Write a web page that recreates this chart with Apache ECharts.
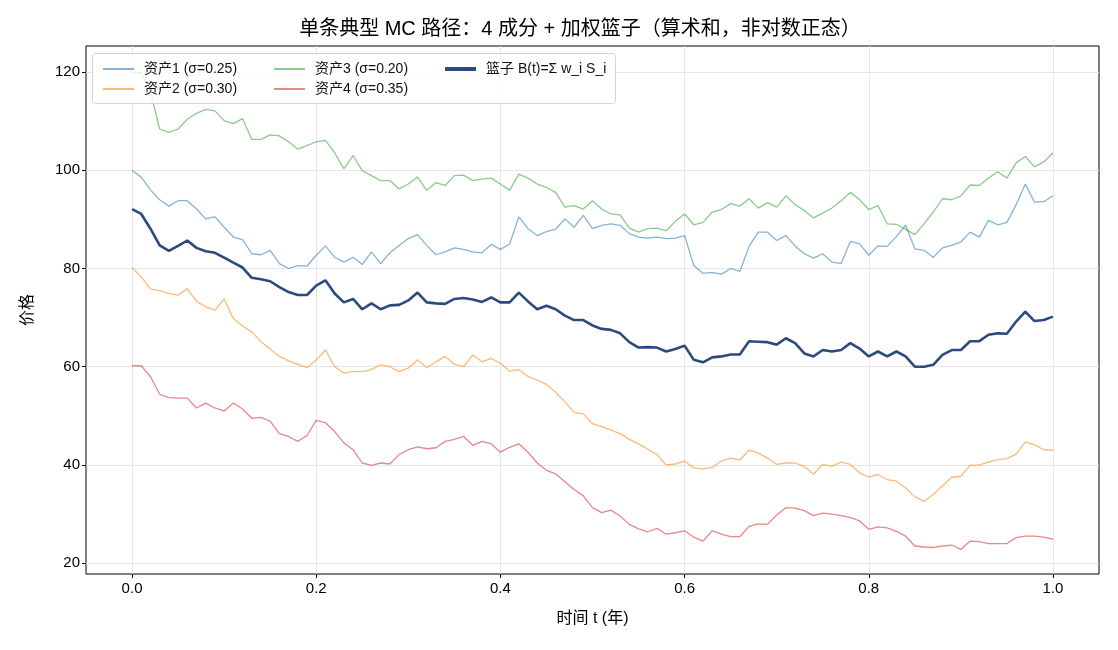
<!DOCTYPE html>
<html>
<head>
<meta charset="utf-8">
<script src="https://cdn.jsdelivr.net/npm/echarts@6/dist/echarts.min.js"></script>
<style>
  html, body { margin: 0; padding: 0; background: #fff; }
  #chart { width: 1118px; height: 650px; }
</style>
</head>
<body>
<div id="chart"></div>
<script>
// time grid: read every 0.01 year along the path
const times = Array.from({ length: 101 }, (_, i) => i / 100);

const asset1 = [
  100.0, 98.6, 96.0, 94.0, 92.7, 93.8, 93.8, 92.1, 90.1, 90.5,
  88.4, 86.4, 85.9, 83.0, 82.8, 83.7, 81.0, 80.0, 80.6, 80.5,
  82.7, 84.6, 82.3, 81.3, 82.3, 80.8, 83.4, 81.0, 83.2, 84.7,
  86.1, 86.9, 84.7, 82.8, 83.4, 84.2, 83.9, 83.4, 83.2, 84.9,
  83.9, 85.0, 90.5, 88.1, 86.7, 87.5, 88.0, 90.1, 88.4, 90.8,
  88.1, 88.8, 89.1, 88.8, 87.1, 86.4, 86.2, 86.4, 86.1, 86.2,
  86.7, 80.6, 79.0, 79.2, 78.8, 80.0, 79.4, 84.5, 87.4, 87.4,
  85.7, 86.7, 84.6, 83.0, 82.1, 83.0, 81.3, 81.0, 85.5, 85.0,
  82.7, 84.6, 84.5, 86.5, 88.8, 84.0, 83.7, 82.3, 84.2, 84.7,
  85.4, 87.4, 86.4, 89.8, 88.9, 89.4, 93.0, 97.2, 93.5, 93.6,
  94.8
];

const asset2 = [
  80.2, 78.3, 75.8, 75.5, 74.9, 74.6, 75.9, 73.3, 72.2, 71.5,
  73.8, 69.8, 68.3, 67.1, 65.1, 63.6, 62.1, 61.2, 60.5, 59.8,
  61.4, 63.4, 60.0, 58.7, 59.0, 59.0, 59.4, 60.4, 60.0, 59.0,
  59.7, 61.4, 59.8, 61.0, 62.1, 60.5, 60.0, 62.4, 61.0, 61.7,
  60.7, 59.1, 59.4, 58.0, 57.3, 56.4, 54.8, 52.9, 50.7, 50.4,
  48.4, 47.8, 47.1, 46.4, 45.2, 44.3, 43.2, 42.1, 40.0, 40.2,
  40.8, 39.4, 39.2, 39.5, 40.8, 41.4, 41.0, 43.0, 42.4, 41.4,
  40.1, 40.4, 40.4, 39.7, 38.1, 40.1, 39.7, 40.6, 40.1, 38.4,
  37.5, 38.1, 37.0, 36.7, 35.3, 33.5, 32.6, 34.0, 35.7, 37.5,
  37.7, 39.9, 40.0, 40.6, 41.1, 41.3, 42.2, 44.7, 44.1, 43.1,
  43.0
];

const asset3 = [
  120.0, 119.8, 116.0, 108.4, 107.7, 108.4, 110.4, 111.6, 112.4, 112.1,
  110.1, 109.5, 110.5, 106.3, 106.3, 107.2, 107.0, 105.8, 104.3, 105.0,
  105.8, 106.1, 103.6, 100.3, 103.0, 99.9, 98.9, 97.9, 97.9, 96.2,
  97.2, 98.6, 95.9, 97.5, 96.9, 98.9, 99.0, 97.9, 98.2, 98.4,
  97.2, 95.9, 99.2, 98.4, 97.2, 96.5, 95.5, 92.5, 92.8, 92.1,
  93.8, 92.1, 91.1, 90.9, 88.2, 87.4, 88.1, 88.2, 87.7, 89.6,
  91.1, 88.9, 89.4, 91.5, 92.0, 93.2, 92.7, 94.2, 92.3, 93.4,
  92.5, 94.8, 93.0, 91.8, 90.3, 91.3, 92.3, 93.8, 95.5, 94.0,
  92.0, 92.8, 89.1, 89.0, 88.0, 86.9, 89.1, 91.5, 94.2, 94.0,
  94.8, 97.0, 96.9, 98.4, 99.7, 98.4, 101.5, 102.8, 100.7, 101.7,
  103.5
];

const asset4 = [
  60.2, 60.2, 58.0, 54.4, 53.7, 53.6, 53.6, 51.6, 52.6, 51.6,
  51.0, 52.6, 51.4, 49.5, 49.7, 48.9, 46.4, 45.8, 44.8, 46.0,
  49.1, 48.6, 46.8, 44.5, 43.1, 40.4, 39.9, 40.4, 40.2, 42.1,
  43.1, 43.7, 43.3, 43.5, 44.8, 45.2, 45.8, 44.0, 44.8, 44.3,
  42.6, 43.6, 44.3, 42.6, 40.4, 38.9, 38.2, 36.6, 35.0, 33.7,
  31.3, 30.3, 30.8, 29.6, 27.9, 27.0, 26.4, 27.1, 25.9, 26.2,
  26.6, 25.3, 24.5, 26.6, 25.9, 25.4, 25.4, 27.5, 28.0, 27.9,
  29.8, 31.3, 31.2, 30.7, 29.7, 30.2, 30.0, 29.7, 29.3, 28.6,
  26.9, 27.4, 27.2, 26.5, 25.5, 23.5, 23.3, 23.2, 23.5, 23.7,
  22.8, 24.5, 24.4, 24.0, 24.0, 24.0, 25.2, 25.5, 25.5, 25.3,
  24.9
];

const basket = [
  92.1, 91.1, 88.1, 84.7, 83.6, 84.6, 85.7, 84.2, 83.5, 83.2,
  82.2, 81.2, 80.2, 78.1, 77.8, 77.4, 76.2, 75.2, 74.6, 74.6,
  76.5, 77.6, 74.9, 73.1, 73.8, 71.7, 72.9, 71.7, 72.5, 72.6,
  73.5, 75.1, 73.1, 72.9, 72.8, 73.8, 74.0, 73.7, 73.2, 74.1,
  73.1, 73.1, 75.1, 73.3, 71.7, 72.4, 71.7, 70.4, 69.5, 69.5,
  68.4, 67.7, 67.5, 66.8, 65.0, 63.9, 64.0, 63.9, 63.1, 63.6,
  64.3, 61.4, 60.9, 61.9, 62.1, 62.5, 62.5, 65.2, 65.1, 65.0,
  64.5, 65.8, 64.8, 62.7, 62.1, 63.4, 63.1, 63.4, 64.8, 63.7,
  62.1, 63.1, 62.1, 63.1, 62.1, 60.0, 60.0, 60.4, 62.4, 63.4,
  63.4, 65.2, 65.2, 66.5, 66.8, 66.7, 69.2, 71.2, 69.3, 69.5,
  70.2
];

const seriesNames = ['资产1 (σ=0.25)', '资产2 (σ=0.30)', '资产3 (σ=0.20)', '资产4 (σ=0.35)', '篮子 B(t)=Σ w_i S_i'];
const seriesColors = ['rgba(31,119,180,0.55)', 'rgba(255,127,14,0.55)', 'rgba(44,160,44,0.55)', 'rgba(214,39,40,0.55)', '#2c4a7e'];
const xTicks = [0, 0.2, 0.4, 0.6, 0.8, 1.0];
const yTicks = [20, 40, 60, 80, 100, 120];

const FONT = "'Liberation Sans', 'Noto Sans CJK SC', sans-serif";

const pairs = (vals) => vals.map((v, i) => [times[i], v]);

const makeSeries = (name, vals, color, width) => ({
  name,
  type: 'line',
  data: pairs(vals),
  showSymbol: false,
  symbol: 'none',
  color,
  lineStyle: { color, width },
  z: 2,
  animation: false,
});

const legendBase = {
  orient: 'vertical',
  top: 57,
  itemWidth: 31,
  itemGap: 6,
  icon: 'rect',
  selectedMode: false,
  textStyle: { fontFamily: FONT, fontSize: 14, color: '#111', padding: [0, 0, 0, 5] },
};

const chart = echarts.init(document.getElementById('chart'));
chart.setOption({
  backgroundColor: '#fff',
  animation: false,
  title: {
    text: '单条典型 MC 路径：4 成分 + 加权篮子（算术和，非对数正态）',
    left: 580,
    top: 19,
    textAlign: 'center',
    padding: 0,
    textStyle: { fontFamily: FONT, fontSize: 20, fontWeight: 'normal', color: '#000' },
  },
  grid: {
    left: 86,
    right: 19,
    top: 46,
    bottom: 76,
    show: true,
    borderColor: '#000',
    borderWidth: 1,
    backgroundColor: 'transparent',
  },
  legend: [
    Object.assign({}, legendBase, { left: 98, data: [seriesNames[0], seriesNames[1]], itemHeight: 2 }),
    Object.assign({}, legendBase, { left: 269, data: [seriesNames[2], seriesNames[3]], itemHeight: 2 }),
    Object.assign({}, legendBase, { left: 440, data: [seriesNames[4]], itemHeight: 4 }),
  ],
  graphic: [
    {
      type: 'rect',
      left: 92,
      top: 53,
      shape: { width: 523, height: 50, r: 3 },
      style: { fill: 'rgba(255,255,255,0.8)', stroke: '#d4d4d4', lineWidth: 1 },
      z: 3,
    },
  ],
  xAxis: {
    type: 'value',
    min: -0.05,
    max: 1.05,
    name: '时间 t (年)',
    nameLocation: 'middle',
    nameGap: 37,
    nameTextStyle: { fontFamily: FONT, fontSize: 16, color: '#000' },
    axisLine: { show: false, onZero: false },
    axisTick: { show: true, length: 4, lineStyle: { color: '#000' }, customValues: xTicks },
    axisLabel: {
      fontFamily: FONT, fontSize: 15, color: '#000', margin: 7,
      customValues: xTicks,
      formatter: (v) => v.toFixed(1),
    },
    splitLine: { show: true, lineStyle: { color: '#e6e6e6', width: 1 } },
  },
  yAxis: {
    type: 'value',
    min: 17.8,
    max: 125.3,
    name: '价格',
    nameLocation: 'middle',
    nameRotate: 90,
    nameGap: 50,
    nameTextStyle: { fontFamily: FONT, fontSize: 16, color: '#000' },
    axisLine: { show: false, onZero: false },
    axisTick: { show: true, length: 4, lineStyle: { color: '#000' }, customValues: yTicks },
    axisLabel: { fontFamily: FONT, fontSize: 15, color: '#000', margin: 6, customValues: yTicks },
    splitLine: { show: true, lineStyle: { color: '#e6e6e6', width: 1 } },
  },
  series: [
    makeSeries(seriesNames[0], asset1, seriesColors[0], 1.3),
    makeSeries(seriesNames[1], asset2, seriesColors[1], 1.3),
    makeSeries(seriesNames[2], asset3, seriesColors[2], 1.3),
    makeSeries(seriesNames[3], asset4, seriesColors[3], 1.3),
    makeSeries(seriesNames[4], basket, seriesColors[4], 2.6),
  ],
});
</script>
</body>
</html>
